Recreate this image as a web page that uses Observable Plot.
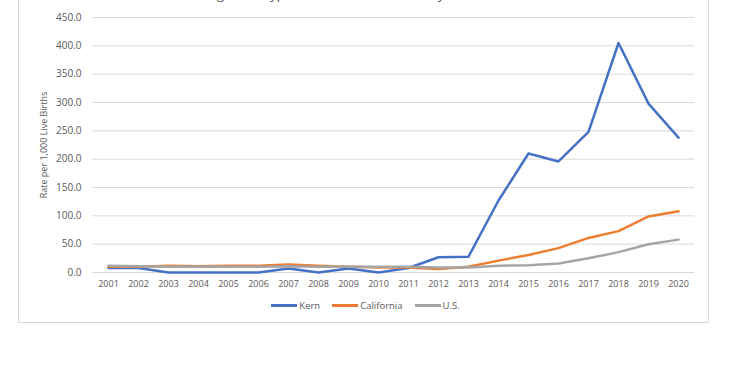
<!DOCTYPE html>
<html>
<head>
<meta charset="utf-8">
<script src="https://cdn.jsdelivr.net/npm/d3@7"></script>
<script src="https://cdn.jsdelivr.net/npm/@observablehq/plot@0.6"></script>
<style>
  html, body { margin: 0; padding: 0; background: #fff; width: 731px; height: 384px; overflow: hidden; position: relative; font-family: "Open Sans", sans-serif; }
  #box { position: absolute; left: 18px; top: -10px; width: 691px; height: 333px; border: 1px solid #d9d9d9; box-sizing: border-box; }
  #title { position: absolute; left: 0; width: 706px; top: -15px; text-align: center; font-size: 13.5px; color: #595959; white-space: nowrap; }
  #chart { position: absolute; left: 0; top: 0; }
  #legend { position: absolute; left: 0; width: 731px; top: 299px; display: flex; justify-content: center; align-items: center; font-size: 9.5px; color: #595959; }
  .item { display: flex; align-items: center; margin: 0 6px; }
  .sw { width: 26px; height: 2.5px; margin-right: 2px; }
</style>
</head>
<body>
<div id="box"></div>
<div id="title">Congenital Syphilis Rates in Kern County 2001-2020</div>
<div id="chart"></div>
<div id="legend"></div>
<script>
const years = ["2001","2002","2003","2004","2005","2006","2007","2008","2009","2010","2011","2012","2013","2014","2015","2016","2017","2018","2019","2020"];
const kern = [8, 8, 0, 0, 0, 0, 7, 0, 7, 0, 8, 27, 28, 127, 210, 196, 248, 405, 298, 238];
const california = [10, 10, 12, 11, 12, 12, 14, 12, 10, 9, 9, 6, 10, 21, 31, 43, 61, 73, 99, 108];
const us = [12, 11, 10, 10, 10, 10, 11, 10, 10, 10, 10, 9, 9, 12, 13, 16, 25, 36, 50, 58];
const seriesNames = ["Kern", "California", "U.S."];
const seriesColors = ["#4472C4", "#ED7D31", "#A5A5A5"];
const yTicks = [0, 50, 100, 150, 200, 250, 300, 350, 400, 450];

const rows = [];
[kern, california, us].forEach((vals, s) => {
  vals.forEach((v, i) => rows.push({year: years[i], value: v, series: seriesNames[s]}));
});

const plot = Plot.plot({
  width: 731,
  height: 295,
  marginLeft: 92,
  marginRight: 37,
  marginTop: 17,
  marginBottom: 23,
  style: {fontFamily: "Open Sans, sans-serif", fontSize: "9px", color: "#595959", background: "transparent"},
  x: {type: "point", domain: years, padding: 0.5},
  y: {domain: [0, 450]},
  color: {domain: seriesNames, range: seriesColors},
  marks: [
    Plot.gridY(yTicks, {stroke: "#d9d9d9", strokeOpacity: 1, strokeWidth: 1}),
    Plot.axisY(yTicks, {tickFormat: d3.format(".1f"), tickSize: 0, tickPadding: 11, fontSize: 10, label: null, fill: "#595959"}),
    Plot.axisY({tickSize: 0, ticks: [], label: "Rate per 1,000 Live Births", labelAnchor: "center", labelArrow: "none", labelOffset: 52, fill: "#595959"}),
    Plot.axisX({tickSize: 0, tickPadding: 8, label: null, fill: "#595959"}),
    Plot.line(rows, {x: "year", y: "value", stroke: "series", z: "series", strokeWidth: 2.5, curve: "linear"})
  ]
});
document.getElementById("chart").appendChild(plot);

const leg = document.getElementById("legend");
seriesNames.forEach((n, i) => {
  const it = document.createElement("div");
  it.className = "item";
  const sw = document.createElement("div");
  sw.className = "sw";
  sw.style.background = seriesColors[i];
  const t = document.createElement("span");
  t.textContent = n;
  it.appendChild(sw); it.appendChild(t);
  leg.appendChild(it);
});
</script>
</body>
</html>
